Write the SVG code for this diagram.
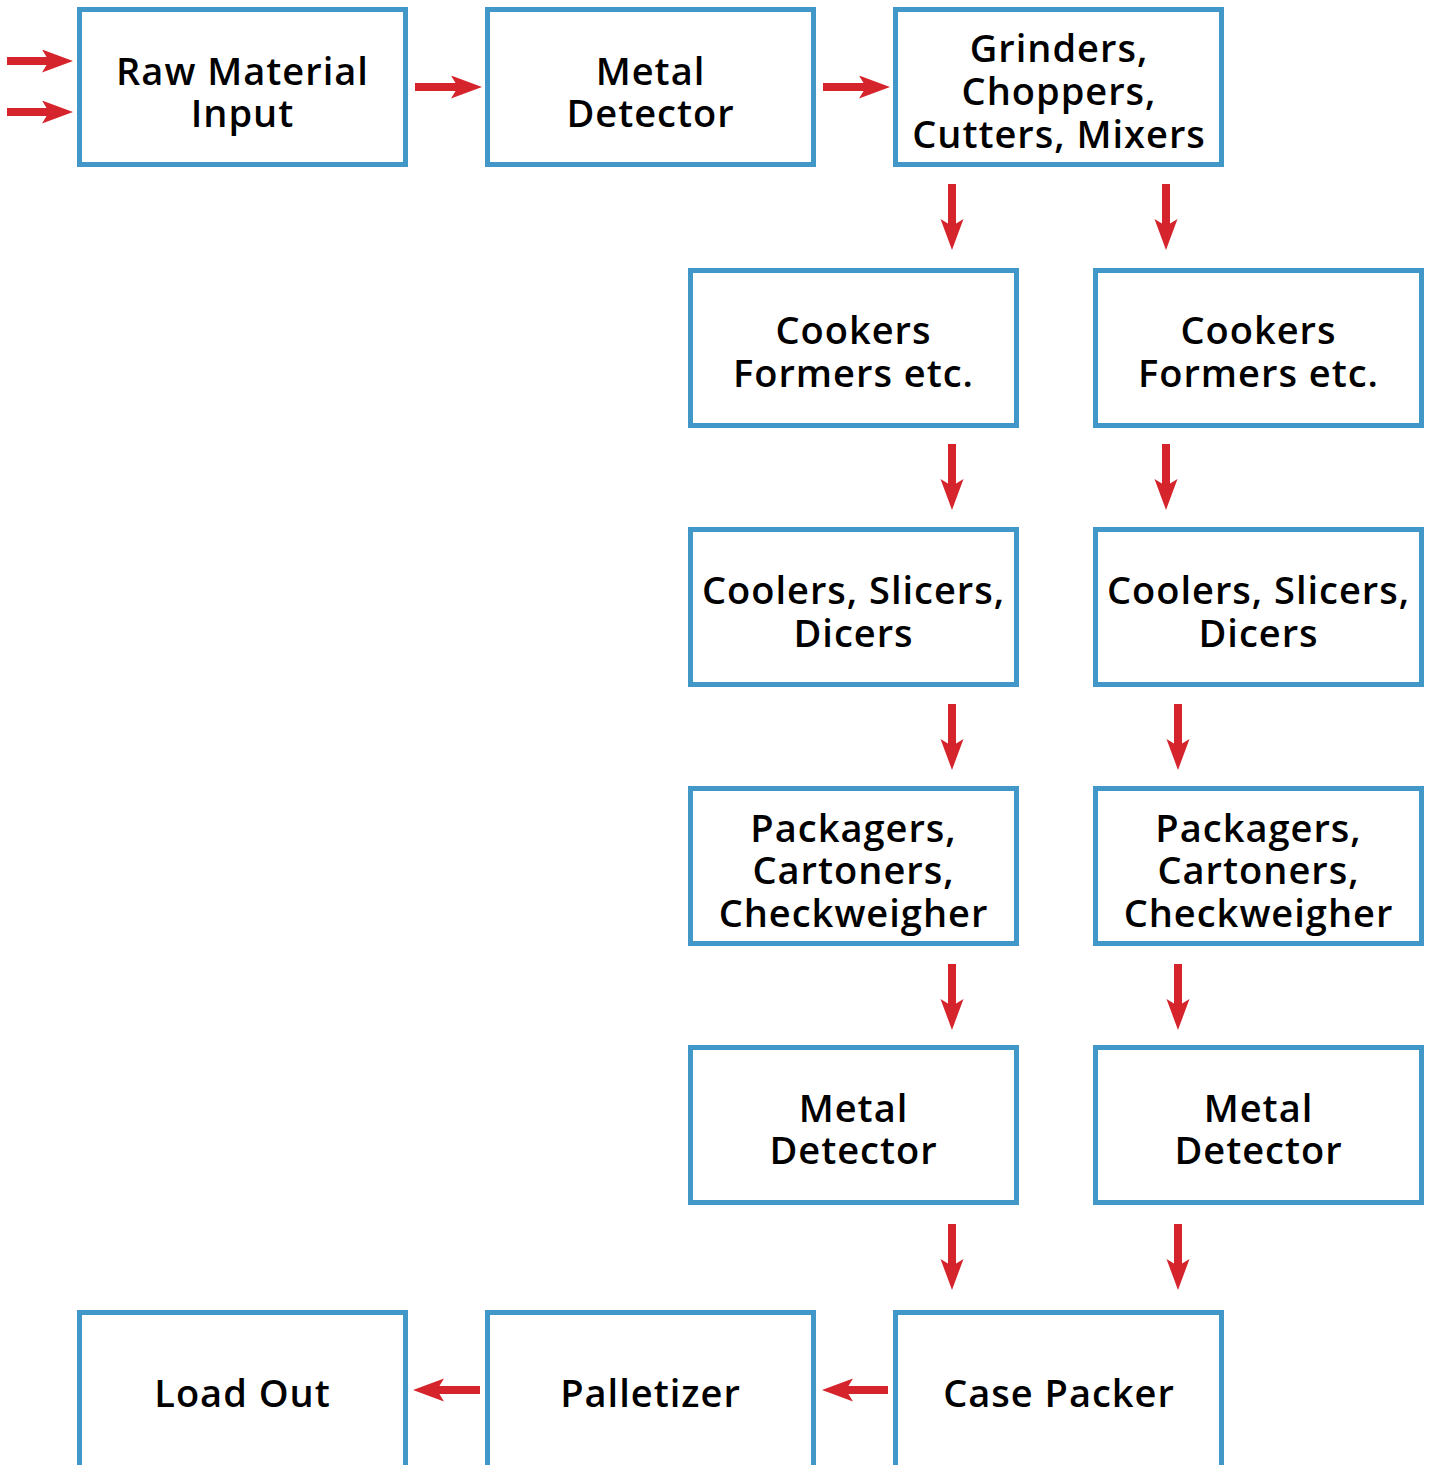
<svg xmlns="http://www.w3.org/2000/svg" width="1431" height="1465" viewBox="0 0 1431 1465">
<style>
.box{fill:#ffffff;stroke:#4297c9;stroke-width:5}
.lbl{font-family:"Open Sans","Noto Sans","Liberation Sans",sans-serif;font-weight:600;font-size:38px;fill:#000000;text-anchor:middle;letter-spacing:1px}
.arr{stroke:#d5242c;stroke-width:8;fill:none;marker-end:url(#ah)}
</style>
<defs>
<marker id="ah" markerUnits="userSpaceOnUse" markerWidth="32" markerHeight="24" refX="7" refY="11.5" orient="auto" viewBox="0 0 32 24">
<path d="M0,0 L31,11.5 L0,23 L7,11.5 Z" fill="#d5242c"/>
</marker>
</defs>
<rect width="1431" height="1465" fill="#ffffff"/>
<g id="connectors">
<line class="arr" x1="7" y1="61" x2="49" y2="61"/>
<line class="arr" x1="7" y1="112" x2="49" y2="112"/>
<line class="arr" x1="415" y1="87" x2="458" y2="87"/>
<line class="arr" x1="823" y1="87" x2="866" y2="87"/>
<line class="arr" x1="952" y1="184" x2="952" y2="226"/>
<line class="arr" x1="1166" y1="184" x2="1166" y2="226"/>
<line class="arr" x1="952" y1="444" x2="952" y2="486"/>
<line class="arr" x1="1166" y1="444" x2="1166" y2="486"/>
<line class="arr" x1="952" y1="704" x2="952" y2="746"/>
<line class="arr" x1="1178" y1="704" x2="1178" y2="746"/>
<line class="arr" x1="952" y1="964" x2="952" y2="1006"/>
<line class="arr" x1="1178" y1="964" x2="1178" y2="1006"/>
<line class="arr" x1="952" y1="1224" x2="952" y2="1266"/>
<line class="arr" x1="1178" y1="1224" x2="1178" y2="1266"/>
<line class="arr" x1="888" y1="1390" x2="846" y2="1390"/>
<line class="arr" x1="480" y1="1390" x2="437" y2="1390"/>
</g>
<g id="raw-material-input">
<rect class="box" x="79.5" y="9.5" width="326" height="155"/>
<text class="lbl"><tspan x="242.5" y="85">Raw Material</tspan><tspan x="242.5" y="127">Input</tspan></text>
</g>
<g id="metal-detector-1">
<rect class="box" x="487.5" y="9.5" width="326" height="155"/>
<text class="lbl"><tspan x="650.5" y="85">Metal</tspan><tspan x="650.5" y="127">Detector</tspan></text>
</g>
<g id="grinders">
<rect class="box" x="895.5" y="9.5" width="326" height="155"/>
<text class="lbl"><tspan x="1059" y="62">Grinders,</tspan><tspan x="1059" y="105">Choppers,</tspan><tspan x="1059" y="148">Cutters, Mixers</tspan></text>
</g>
<g id="cookers-a">
<rect class="box" x="690.5" y="270.5" width="326" height="155"/>
<text class="lbl"><tspan x="853.5" y="344">Cookers</tspan><tspan x="853.5" y="387">Formers etc.</tspan></text>
</g>
<g id="cookers-b">
<rect class="box" x="1095.5" y="270.5" width="326" height="155"/>
<text class="lbl"><tspan x="1258.5" y="344">Cookers</tspan><tspan x="1258.5" y="387">Formers etc.</tspan></text>
</g>
<g id="coolers-a">
<rect class="box" x="690.5" y="529.5" width="326" height="155"/>
<text class="lbl"><tspan x="853.5" y="604">Coolers, Slicers,</tspan><tspan x="853.5" y="647">Dicers</tspan></text>
</g>
<g id="coolers-b">
<rect class="box" x="1095.5" y="529.5" width="326" height="155"/>
<text class="lbl"><tspan x="1258.5" y="604">Coolers, Slicers,</tspan><tspan x="1258.5" y="647">Dicers</tspan></text>
</g>
<g id="packagers-a">
<rect class="box" x="690.5" y="788.5" width="326" height="155"/>
<text class="lbl"><tspan x="853.5" y="842">Packagers,</tspan><tspan x="853.5" y="884">Cartoners,</tspan><tspan x="853.5" y="927">Checkweigher</tspan></text>
</g>
<g id="packagers-b">
<rect class="box" x="1095.5" y="788.5" width="326" height="155"/>
<text class="lbl"><tspan x="1258.5" y="842">Packagers,</tspan><tspan x="1258.5" y="884">Cartoners,</tspan><tspan x="1258.5" y="927">Checkweigher</tspan></text>
</g>
<g id="metal-detector-a">
<rect class="box" x="690.5" y="1047.5" width="326" height="155"/>
<text class="lbl"><tspan x="853.5" y="1122">Metal</tspan><tspan x="853.5" y="1164">Detector</tspan></text>
</g>
<g id="metal-detector-b">
<rect class="box" x="1095.5" y="1047.5" width="326" height="155"/>
<text class="lbl"><tspan x="1258.5" y="1122">Metal</tspan><tspan x="1258.5" y="1164">Detector</tspan></text>
</g>
<g id="load-out">
<rect class="box" x="79.5" y="1312.5" width="326" height="170"/>
<text class="lbl" x="242.5" y="1407">Load Out</text>
</g>
<g id="palletizer">
<rect class="box" x="487.5" y="1312.5" width="326" height="170"/>
<text class="lbl" x="650.5" y="1407">Palletizer</text>
</g>
<g id="case-packer">
<rect class="box" x="895.5" y="1312.5" width="326" height="170"/>
<text class="lbl" x="1059" y="1407">Case Packer</text>
</g>
</svg>
